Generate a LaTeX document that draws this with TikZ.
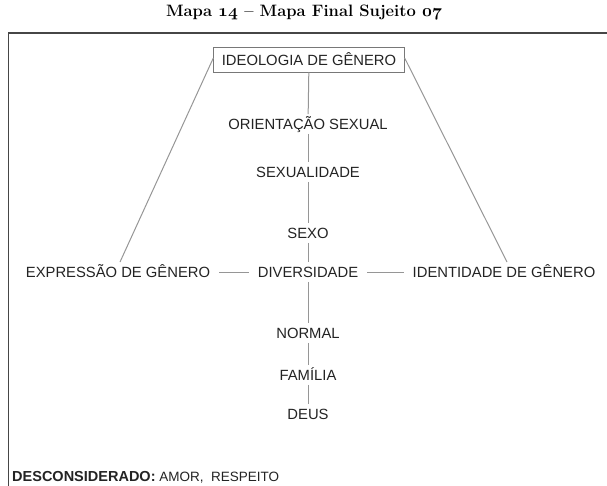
\documentclass[tikz,border=0pt]{standalone}
\usepackage{fontspec}
\setsansfont{Liberation Sans}
\usetikzlibrary{positioning}
\definecolor{txt}{RGB}{35,35,35}
\definecolor{conn}{RGB}{150,150,150}
\definecolor{boxc}{RGB}{120,120,120}
\definecolor{frame}{RGB}{70,70,70}
\newcommand{\osnum}[1]{{\usefont{OML}{cmm}{b}{it}#1}}
\tikzset{
  lbl/.style={font=\sffamily\fontsize{14.8}{17}\selectfont, text=txt, text height=10.6pt, text depth=0pt, inner sep=0pt, outer xsep=9pt, outer ysep=4.5pt},
  rootbox/.style={lbl, draw=boxc, line width=0.9pt, inner xsep=8.5pt, inner ysep=7pt, outer sep=0pt},
  conline/.style={draw=conn, line width=1pt},
}
\begin{document}
\begin{tikzpicture}[x=1pt,y=-1pt]
\useasboundingbox (0,0) rectangle (607,485);
% title
\node[font=\fontsize{16.5}{19}\selectfont\bfseries, text=black] (title) at (304,12.5) {Mapa \osnum{14} -- Mapa Final Sujeito \osnum{07}};
% frame
\draw[frame, line width=1.5pt] (608,33) -- (8.5,33) -- (8.5,486);
% nodes
\node[rootbox] (ideo) at (309,60) {IDEOLOGIA DE GÊNERO};
\node[lbl] (orient) at (308,124) {ORIENTAÇÃO SEXUAL};
\node[lbl] (sexual) at (308,172) {SEXUALIDADE};
\node[lbl] (sexo) at (308,233) {SEXO};
\node[lbl] (div) at (308,272) {DIVERSIDADE};
\node[lbl] (expr) at (118,272) {EXPRESSÃO DE GÊNERO};
\node[lbl] (ident) at (504,272) {IDENTIDADE DE GÊNERO};
\node[lbl] (normal) at (308,333) {NORMAL};
\node[lbl] (familia) at (308,375) {FAMÍLIA};
\node[lbl] (deus) at (308,414) {DEUS};
\coordinate (exprtop) at (120,262);
\coordinate (identtop) at (507,262);
% connectors
\draw[conline] (ideo) -- (orient);
\draw[conline] (orient) -- (sexual);
\draw[conline] (sexual) -- (sexo);
\draw[conline] (sexo) -- (div);
\draw[conline] (div) -- (normal);
\draw[conline] (normal) -- (familia);
\draw[conline] (familia) -- (deus);
\draw[conline] (expr) -- (div);
\draw[conline] (div) -- (ident);
\draw[conline] (ideo.west |- 0,58) -- (exprtop);
\draw[conline] (ideo.east |- 0,58) -- (identtop);
% bottom note
\node[anchor=base west, inner sep=0pt, text=txt] (note) at (12,481) {\sffamily\fontsize{14.5}{17}\selectfont\bfseries DESCONSIDERADO:\fontsize{13.5}{15}\selectfont\mdseries\ AMOR,\ \ RESPEITO};
\end{tikzpicture}
\end{document}
